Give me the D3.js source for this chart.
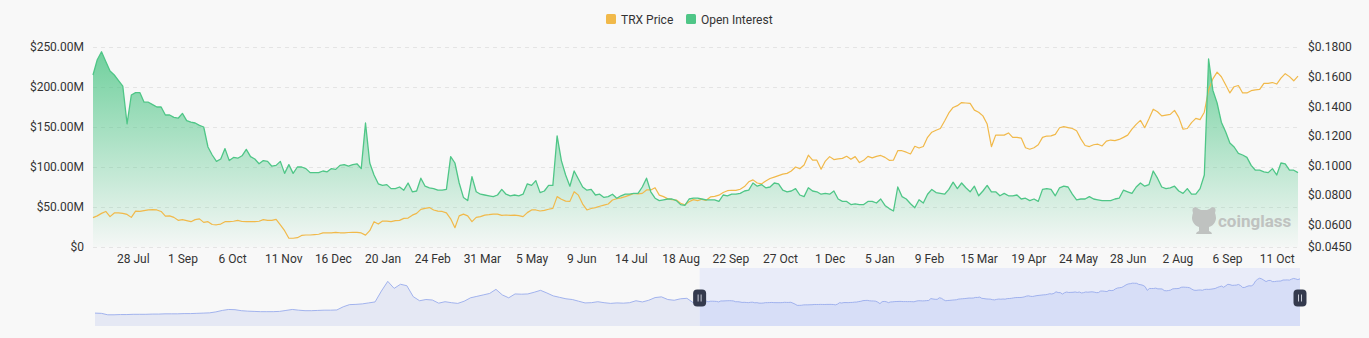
<!DOCTYPE html>
<html>
<head>
<meta charset="utf-8">
<script src="https://cdn.jsdelivr.net/npm/d3@7"></script>
<style>
  html, body { margin: 0; padding: 0; background: #f8f8f8; }
  svg { display: block; font-family: Roboto, "Noto Sans", sans-serif; }
</style>
</head>
<body>
<svg id="chart" width="1369" height="338"></svg>
<script>
// ---- data -----------------------------------------------------------------
// Daily-sampled series, one value every `stepDays` days starting at `startDate`.
const startDate = "2022-06-30";
const stepDays = 3;

// Open interest, millions of USD
const openInterest = [
  215, 234, 244, 232, 220, 215, 208, 201, 154, 190,
  193, 193, 181, 181, 178, 175, 175, 165, 165, 162,
  161, 167, 158, 156, 155, 152, 150, 125, 115, 107,
  110, 123, 108, 112, 111, 114, 122, 113, 110, 104,
  108, 107, 101, 102, 107, 92, 103, 92, 100, 100,
  98, 93, 93, 93, 95, 94, 98, 97, 102, 103,
  101, 103, 104, 98, 155, 105, 90, 79, 77, 78,
  73, 73, 75, 71, 80, 69, 70, 86, 76, 74,
  73, 71, 71, 72, 113, 105, 80, 62, 58, 88,
  69, 66, 65, 64, 63, 65, 72, 66, 64, 65,
  64, 66, 79, 77, 83, 68, 70, 77, 77, 139,
  108, 90, 76, 95, 85, 75, 71, 72, 65, 66,
  62, 63, 66, 61, 64, 66, 66, 67, 67, 75,
  86, 69, 61, 58, 59, 60, 60, 58, 53, 52,
  60, 61, 61, 60, 59, 59, 59, 57, 65, 64,
  66, 66, 67, 70, 71, 80, 76, 78, 74, 75,
  80, 79, 71, 69, 70, 73, 65, 63, 74, 70,
  69, 66, 67, 66, 70, 60, 57, 57, 53, 54,
  53, 53, 57, 57, 55, 60, 52, 48, 45, 75,
  63, 60, 54, 49, 59, 55, 66, 72, 68, 67,
  66, 72, 81, 73, 80, 74, 69, 76, 64, 70,
  77, 69, 69, 64, 67, 64, 64, 65, 60, 61,
  58, 60, 57, 72, 73, 72, 64, 74, 76, 75,
  66, 59, 60, 60, 63, 60, 59, 58, 58, 58,
  60, 61, 71, 69, 67, 75, 80, 76, 78, 95,
  86, 75, 73, 74, 76, 70, 67, 73, 66, 66,
  73, 90, 235, 196, 180, 156, 144, 130, 125, 117,
  115, 112, 102, 96, 96, 94, 93, 98, 90, 105,
  104, 96, 96, 93
];

// TRX price, USD
const trxPrice = [
  .0648, .0660, .0677, .0690, .0655, .0680, .0680, .0677, .0670, .0650,
  .0692, .0690, .0695, .0700, .0702, .0700, .0690, .0658, .0660, .0650,
  .0630, .0635, .0628, .0621, .0635, .0640, .0616, .0621, .0602, .0600,
  .0605, .0621, .0621, .0624, .0630, .0622, .0621, .0621, .0621, .0624,
  .0635, .0630, .0630, .0636, .0600, .0560, .0509, .0509, .0513, .0528,
  .0531, .0531, .0534, .0536, .0545, .0545, .0545, .0549, .0546, .0545,
  .0548, .0549, .0549, .0545, .0530, .0560, .0621, .0605, .0625, .0625,
  .0621, .0628, .0630, .0643, .0645, .0665, .0677, .0704, .0711, .0716,
  .0700, .0692, .0690, .0680, .0640, .0580, .0660, .0672, .0660, .0621,
  .0650, .0655, .0665, .0668, .0672, .0672, .0663, .0666, .0663, .0665,
  .0662, .0655, .0682, .0700, .0700, .0693, .0697, .0705, .0711, .0790,
  .0772, .0760, .0758, .0823, .0800, .0740, .0700, .0710, .0716, .0725,
  .0733, .0740, .0767, .0776, .0782, .0790, .0800, .0811, .0808, .0812,
  .0835, .0835, .0850, .0800, .0790, .0775, .0770, .0767, .0745, .0735,
  .0756, .0770, .0763, .0772, .0765, .0788, .0792, .0800, .0818, .0830,
  .0833, .0832, .0840, .0858, .0890, .0903, .0882, .0876, .0895, .0912,
  .0922, .0932, .0942, .0947, .0963, .0990, .0978, .1003, .1070, .1037,
  .1036, .0975, .1030, .1060, .1040, .1045, .1048, .1062, .1042, .1060,
  .1020, .1035, .1062, .1052, .1062, .1068, .1055, .1035, .1037, .1100,
  .1100, .1090, .1078, .1130, .1118, .1128, .1190, .1225, .1238, .1250,
  .1300, .1355, .1392, .1404, .1425, .1422, .1419, .1374, .1360, .1335,
  .1280, .1127, .1205, .1205, .1205, .1220, .1190, .1190, .1185, .1120,
  .1110, .1120, .1140, .1190, .1199, .1200, .1210, .1255, .1262, .1256,
  .1250, .1235, .1180, .1135, .1128, .1140, .1144, .1132, .1165, .1172,
  .1168, .1176, .1190, .1205, .1245, .1278, .1305, .1255, .1315, .1380,
  .1363, .1335, .1340, .1345, .1372, .1325, .1245, .1250, .1290, .1318,
  .1310, .1360, .1510, .1585, .1630, .1599, .1545, .1490, .1532, .1540,
  .1490, .1490, .1505, .1510, .1514, .1555, .1555, .1560, .1550, .1590,
  .1620, .1600, .1572, .1604
];

// Earlier TRX price history shown in the range slider
const historyStart = "2020-02-26";
const historyStep = 9;
const historyPrice = [
  .019, .018, .012, .012, .013, .013, .014, .014, .014, .015,
  .015, .016, .016, .016, .017, .017, .018, .019, .020, .024,
  .030, .034, .033, .029, .027, .026, .025, .025, .025, .026,
  .030, .034, .031, .029, .029, .030, .031, .031, .032, .045,
  .054, .055, .057, .061, .065, .110, .150, .121, .138, .132,
  .087, .070, .075, .073, .060, .066, .062, .059, .068, .082,
  .088, .094, .100, .117, .094, .082, .098, .097, .098, .105,
  .113, .102, .090, .084, .078, .075, .068, .061, .062, .066,
  .062, .059, .061, .060, .062, .070, .065, .072, .083, .086,
  .075, .072, .078, .080, .062
];

const oiTicks = [0, 50, 100, 150, 200, 250];
const priceTicks = [0.045, 0.06, 0.08, 0.10, 0.12, 0.14, 0.16, 0.18];
const dateTicks = [
  "2022-07-28", "2022-09-01", "2022-10-06", "2022-11-11", "2022-12-16",
  "2023-01-20", "2023-02-24", "2023-03-31", "2023-05-05", "2023-06-09",
  "2023-07-14", "2023-08-18", "2023-09-22", "2023-10-27", "2023-12-01",
  "2024-01-05", "2024-02-09", "2024-03-15", "2024-04-19", "2024-05-24",
  "2024-06-28", "2024-08-02", "2024-09-06", "2024-10-11"
];
const seriesNames = ["TRX Price", "Open Interest"];

// ---- setup ----------------------------------------------------------------
const parse = d3.utcParse("%Y-%m-%d");
const t0 = parse(startDate);
const dateAt = i => d3.utcDay.offset(t0, i * stepDays);
const h0 = parse(historyStart);
const histDateAt = i => d3.utcDay.offset(h0, i * historyStep);

const oiData = openInterest.map((v, i) => ({ date: dateAt(i), v }));
const priceData = trxPrice.map((v, i) => ({ date: dateAt(i), v }));
const sliderData = historyPrice.map((v, i) => ({ date: histDateAt(i), v }))
  .concat(priceData);

const C = {
  oi: "#4fc687",
  price: "#f1b94a",
  grid: "#e4e4e4",
  text: "#333",
  slider: "#98abec"
};

const plot = { left: 93, right: 1298, top: 47, bottom: 247 };

const x = d3.scaleUtc()
  .domain([t0, dateAt(openInterest.length - 1)])
  .range([plot.left, plot.right]);
const yOI = d3.scaleLinear().domain([0, 250]).range([plot.bottom, plot.top]);
const yPrice = d3.scaleLinear().domain([0.045, 0.18]).range([plot.bottom, plot.top]);

const svg = d3.select("#chart");
const defs = svg.append("defs");

const grad = defs.append("linearGradient")
  .attr("id", "oiFill").attr("x1", 0).attr("y1", 0).attr("x2", 0).attr("y2", 1);
grad.append("stop").attr("offset", "0%").attr("stop-color", C.oi).attr("stop-opacity", 0.8);
grad.append("stop").attr("offset", "100%").attr("stop-color", C.oi).attr("stop-opacity", 0.02);

// ---- grid -----------------------------------------------------------------
svg.append("g")
  .selectAll("line").data(oiTicks).join("line")
  .attr("x1", plot.left).attr("x2", plot.right)
  .attr("y1", d => Math.round(yOI(d)) + 0.5).attr("y2", d => Math.round(yOI(d)) + 0.5)
  .attr("stroke", C.grid).attr("stroke-dasharray", "4,4");

// ---- axes -----------------------------------------------------------------
const fmtM = d => d === 0 ? "$0" : `$${d3.format(".2f")(d)}M`;
svg.append("g")
  .attr("transform", `translate(${plot.left - 9},0)`)
  .call(d3.axisLeft(yOI).tickValues(oiTicks).tickFormat(fmtM).tickSize(0).tickPadding(0))
  .call(g => g.select(".domain").remove())
  .call(g => g.selectAll("text").attr("fill", C.text).attr("font-size", 12)
    .attr("font-family", "Roboto, sans-serif"));

svg.append("g")
  .attr("transform", `translate(${plot.right + 10},0)`)
  .call(d3.axisRight(yPrice).tickValues(priceTicks).tickFormat(d => "$" + d3.format(".4f")(d))
    .tickSize(0).tickPadding(0))
  .call(g => g.select(".domain").remove())
  .call(g => g.selectAll("text").attr("fill", C.text).attr("font-size", 12)
    .attr("font-family", "Roboto, sans-serif"));

const fmtDate = d3.utcFormat("%-d %b");
svg.append("g")
  .attr("transform", `translate(0,${plot.bottom + 7})`)
  .call(d3.axisBottom(x).tickValues(dateTicks.map(parse)).tickFormat(fmtDate)
    .tickSize(0).tickPadding(0))
  .call(g => g.select(".domain").remove())
  .call(g => g.selectAll("text").attr("fill", C.text).attr("font-size", 12)
    .attr("dy", "0.71em").attr("font-family", "Roboto, sans-serif"));

// ---- series ---------------------------------------------------------------
const oiArea = d3.area().x(d => x(d.date)).y0(plot.bottom).y1(d => yOI(d.v));
const oiLine = d3.line().x(d => x(d.date)).y(d => yOI(d.v));
const priceLine = d3.line().x(d => x(d.date)).y(d => yPrice(d.v));

svg.append("path").datum(oiData).attr("d", oiArea).attr("fill", "url(#oiFill)");
svg.append("path").datum(priceData).attr("d", priceLine)
  .attr("fill", "none").attr("stroke", C.price).attr("stroke-width", 1.2)
  .attr("stroke-linejoin", "round");
svg.append("path").datum(oiData).attr("d", oiLine)
  .attr("fill", "none").attr("stroke", C.oi).attr("stroke-width", 1.3)
  .attr("stroke-linejoin", "round");

// ---- watermark ------------------------------------------------------------
const wm = svg.append("g").attr("fill", "#bfc2c0");
// mascot: head with horns and a small body
wm.append("path").attr("d",
  "M1193,213 q-2,-6 3,-6 q2,2 5,3 h6 q3,-1 5,-3 q5,0 3,6 q2,5 0,9 q-2,4 -6,5 v4 q3,1 3,3 h-16 q0,-2 3,-3 v-4 q-4,-1 -6,-5 q-2,-4 0,-9 z");
wm.append("text").attr("x", 1218).attr("y", 227)
  .attr("font-size", 17).attr("font-weight", 700)
  .attr("font-family", "Roboto, sans-serif").text("coinglass");

// ---- legend ---------------------------------------------------------------
const legend = svg.append("g").attr("font-size", 12).attr("fill", C.text);
const legendItems = [
  { name: seriesNames[0], color: C.price, x: 606 },
  { name: seriesNames[1], color: C.oi, x: 686 }
];
legendItems.forEach(it => {
  legend.append("rect").attr("x", it.x).attr("y", 14).attr("width", 10).attr("height", 10)
    .attr("rx", 1.5).attr("fill", it.color);
  legend.append("text").attr("x", it.x + 15).attr("y", 23.5).text(it.name);
});

// ---- range slider ---------------------------------------------------------
const sl = { left: 95, right: 1300, top: 268, bottom: 326 };
const sx = d3.scaleUtc().domain([h0, dateAt(trxPrice.length - 1)]).range([sl.left, sl.right]);
const sy = d3.scaleLinear().domain([0, 0.17]).range([317.7, 276.5]);
const selX0 = sx(t0), selX1 = sl.right;

const sArea = d3.area().x(d => sx(d.date)).y0(sl.bottom).y1(d => sy(d.v));
const sLine = d3.line().x(d => sx(d.date)).y(d => sy(d.v));

defs.append("clipPath").attr("id", "selClip")
  .append("rect").attr("x", selX0).attr("y", sl.top).attr("width", selX1 - selX0)
  .attr("height", sl.bottom - sl.top);
defs.append("clipPath").attr("id", "unselClip")
  .append("rect").attr("x", sl.left).attr("y", sl.top).attr("width", selX0 - sl.left)
  .attr("height", sl.bottom - sl.top);

const sg = svg.append("g");
// unselected part: shaded area under the line
sg.append("path").datum(sliderData).attr("d", sArea).attr("clip-path", "url(#unselClip)")
  .attr("fill", "#e5e8f4");
// selected window
sg.append("rect").attr("x", selX0).attr("y", sl.top).attr("width", selX1 - selX0)
  .attr("height", sl.bottom - sl.top).attr("fill", "#e9ecf9");
sg.append("path").datum(sliderData).attr("d", sArea).attr("clip-path", "url(#selClip)")
  .attr("fill", "#d7def7");
sg.append("path").datum(sliderData).attr("d", sLine)
  .attr("fill", "none").attr("stroke", C.slider).attr("stroke-width", 0.9);

[selX0, selX1].forEach(hx => {
  const hy = (sl.top + sl.bottom) / 2 + 1;
  sg.append("rect").attr("x", hx - 6.5).attr("y", hy - 8.5).attr("width", 13).attr("height", 17)
    .attr("rx", 4).attr("fill", "#343a4d");
  [-1.5, 1.5].forEach(dx => {
    sg.append("line").attr("x1", hx + dx).attr("x2", hx + dx)
      .attr("y1", hy - 3.5).attr("y2", hy + 3.5)
      .attr("stroke", "#c9ccd6").attr("stroke-width", 1);
  });
});
</script>
</body>
</html>
